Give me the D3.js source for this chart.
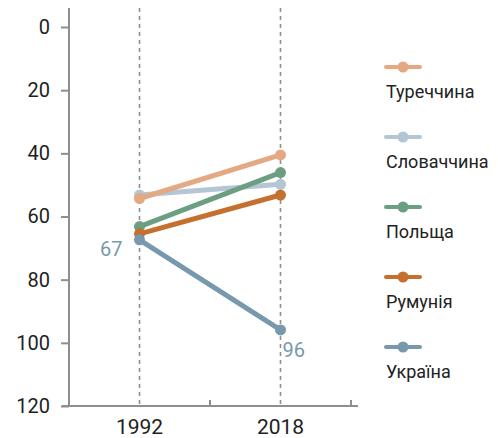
<!DOCTYPE html>
<html>
<head>
<meta charset="utf-8">
<script src="https://cdn.jsdelivr.net/npm/d3@7"></script>
<style>
	body { margin: 0; background: #fff; }
	text { font-family: Roboto, "Noto Sans", sans-serif; }
</style>
</head>
<body>
<div id="chart"></div>
<script>
// Data
const years = ["1992", "2018"];
const countries = ["Туреччина", "Словаччина", "Польща", "Румунія", "Україна"];
const colors = ["#e4a882", "#b4c6d4", "#6c9f82", "#c5702f", "#7898ad"];
const values1992 = [54.3, 53.2, 63.2, 65.5, 67.4];
const values2018 = [40.5, 49.8, 46.1, 53.2, 95.9];
const yTicks = [0, 20, 40, 60, 80, 100, 120];
// point labels shown on the chart (Ukraine only)
const labelled = ["Україна"];
const labelText1992 = ["67"];
const labelText2018 = ["96"];

const width = 498, height = 438;

const svg = d3.select("#chart")
	.append("svg")
	.attr("width", width)
	.attr("height", height);

// Scales
const x = d3.scaleBand()
	.domain(years)
	.range([69, 351]);

const y = d3.scaleLinear()
	.domain([0, 120])
	.range([27, 406]);

const axisColor = "#8d8d92";
const xc = d => x(d) + x.bandwidth() / 2;

// Dashed vertical guides at each year
svg.selectAll(".guide")
	.data(years)
	.enter()
	.append("line")
	.attr("class", "guide")
	.attr("x1", xc).attr("x2", xc)
	.attr("y1", 8).attr("y2", y(120))
	.attr("stroke", "#8f8f8f")
	.attr("stroke-width", 1.6)
	.attr("stroke-dasharray", "4,4");

// Y axis
const yAxis = svg.append("g")
	.attr("transform", `translate(${x.range()[0]},0)`)
	.call(d3.axisLeft(y).tickValues(yTicks).tickSize(8).tickPadding(11));
yAxis.select(".domain").remove();
yAxis.selectAll(".tick line").attr("stroke", axisColor).attr("stroke-width", 2);
yAxis.selectAll(".tick text")
	.attr("fill", "#1e1e1e")
	.style("font-size", "20px")
	.style("font-weight", "400");
svg.append("line")
	.attr("x1", x.range()[0]).attr("x2", x.range()[0])
	.attr("y1", 8).attr("y2", y(120))
	.attr("stroke", axisColor)
	.attr("stroke-width", 2);

// X axis: ticks at band boundaries, labels at centers
const xAxis = svg.append("g")
	.attr("transform", `translate(0,${y(120)})`);
xAxis.append("line")
	.attr("x1", 62).attr("x2", 358)
	.attr("stroke", axisColor)
	.attr("stroke-width", 2);
const bounds = years.map(d => x(d)).concat([x.range()[1]]);
xAxis.selectAll(".bound")
	.data(bounds)
	.enter()
	.append("line")
	.attr("x1", d => d).attr("x2", d => d)
	.attr("y1", 0).attr("y2", -6)
	.attr("stroke", axisColor)
	.attr("stroke-width", 2);
xAxis.selectAll(".year")
	.data(years)
	.enter()
	.append("text")
	.attr("x", xc)
	.attr("y", 28)
	.attr("text-anchor", "middle")
	.attr("fill", "#1e1e1e")
	.style("font-size", "21px")
	.style("font-weight", "400")
	.text(d => d);

// Series
const series = countries.map((c, i) => ({
	name: c,
	color: colors[i],
	points: [
		{ year: years[0], value: values1992[i] },
		{ year: years[1], value: values2018[i] }
	]
}));

// draw order so the lower series sit on top, Turkey above Slovakia
const drawOrder = ["Словаччина", "Туреччина", "Польща", "Румунія", "Україна"];
const ordered = drawOrder.map(n => series.find(s => s.name === n));

const line = d3.line()
	.x(d => xc(d.year))
	.y(d => y(d.value));

const groups = svg.selectAll(".series")
	.data(ordered)
	.enter()
	.append("g")
	.attr("class", "series");

groups.append("path")
	.attr("d", d => line(d.points))
	.attr("fill", "none")
	.attr("stroke", d => d.color)
	.attr("stroke-width", 5)
	.attr("stroke-linecap", "round");

groups.selectAll("circle")
	.data(d => d.points.map(p => ({ ...p, color: d.color })))
	.enter()
	.append("circle")
	.attr("cx", d => xc(d.year))
	.attr("cy", d => y(d.value))
	.attr("r", 5.5)
	.attr("fill", d => d.color);

// Value labels for Ukraine
labelled.forEach((name, i) => {
	const s = series.find(d => d.name === name);
	svg.append("text")
		.attr("x", xc(years[0]) - 17)
		.attr("y", y(s.points[0].value) + 16)
		.attr("text-anchor", "end")
		.attr("fill", s.color)
		.style("font-size", "20px")
		.text(labelText1992[i]);
	svg.append("text")
		.attr("x", xc(years[1]) + 2)
		.attr("y", y(s.points[1].value) + 27)
		.attr("text-anchor", "start")
		.attr("fill", s.color)
		.style("font-size", "20px")
		.text(labelText2018[i]);
});

// Legend
const legend = svg.append("g")
	.attr("transform", "translate(386,67)")
	.selectAll("g")
	.data(series)
	.enter()
	.append("g")
	.attr("transform", (d, i) => `translate(0,${i * 70})`);

legend.append("line")
	.attr("x1", 0).attr("x2", 34)
	.attr("stroke", d => d.color)
	.attr("stroke-width", 4)
	.attr("stroke-linecap", "round");

legend.append("circle")
	.attr("cx", 17)
	.attr("r", 5.5)
	.attr("fill", d => d.color);

legend.append("text")
	.attr("x", 0)
	.attr("y", 31)
	.attr("fill", "#222")
	.style("font-size", "18px")
	.text(d => d.name);
</script>
</body>
</html>
